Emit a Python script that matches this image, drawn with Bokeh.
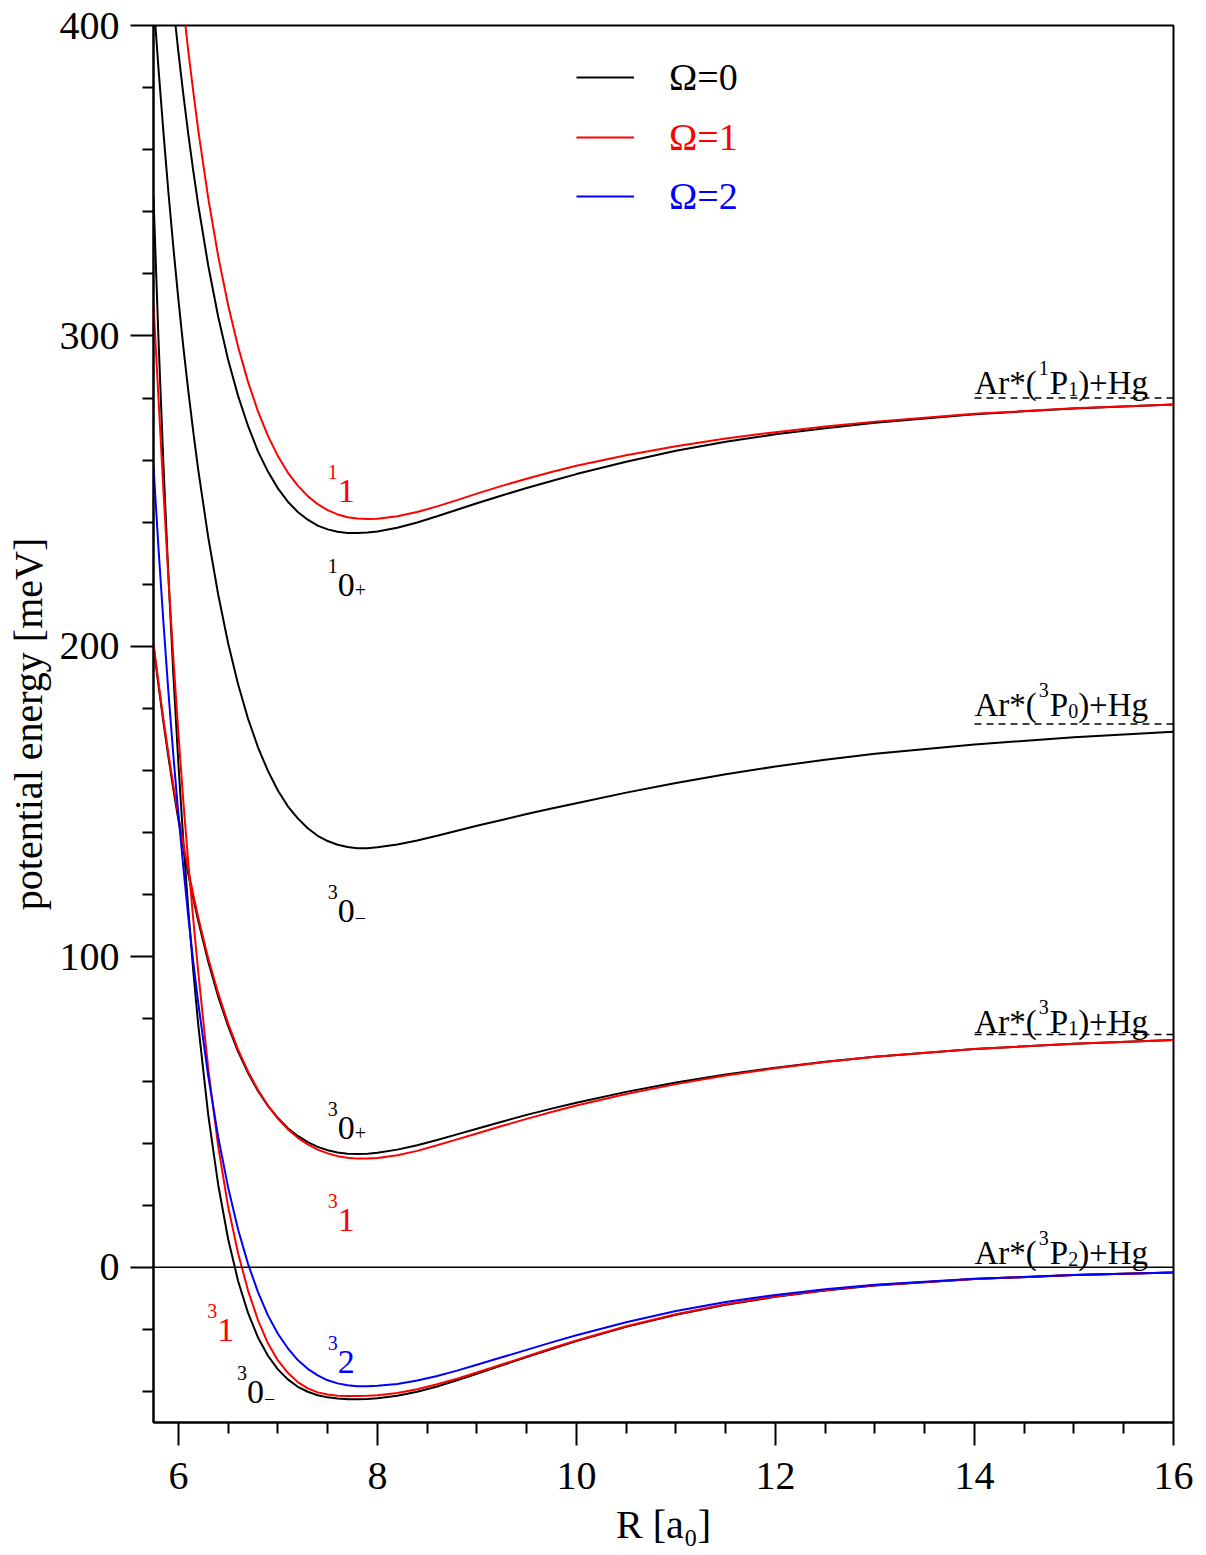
from bokeh.plotting import figure
from bokeh.models import Range1d, FixedTicker, Label, Legend, LegendItem, Span
from bokeh.embed import file_html
from bokeh.resources import INLINE

# ---------------- data ----------------
R = [5.75, 5.8, 5.85, 5.9, 5.95, 6.0, 6.05, 6.1, 6.15, 6.2, 6.3, 6.4, 6.5, 6.6, 6.7, 6.8, 6.9,
     7.0, 7.1, 7.2, 7.3, 7.4, 7.5, 7.6, 7.7, 7.8, 7.9, 8.0, 8.2, 8.4, 8.6, 8.8, 9.0, 9.25, 9.5,
     9.75, 10.0, 10.5, 11.0, 11.5, 12.0, 12.5, 13.0, 14.0, 15.0, 16.0]

# Omega = 0 (black)
V_1_0p = [478.8, 458.7, 440.0, 422.5, 406.5, 391.5, 377.7, 364.9, 353.1, 342.1, 322.7, 306.2, 292.3,
          280.7, 271.0, 262.8, 256.3, 250.9, 246.6, 243.3, 240.8, 238.9, 237.7, 236.9, 236.5, 236.5,
          236.7, 237.0, 238.2, 239.9, 241.9, 244.0, 246.1, 248.6, 251.0, 253.3, 255.5, 259.5, 263.0,
          265.9, 268.3, 270.3, 272.0, 274.8, 276.6, 277.9]
V_3_0m_up = [408.5, 386.2, 365.6, 346.2, 328.4, 311.8, 296.4, 282.2, 269.0, 256.8, 235.1, 216.7, 201.0,
             187.8, 176.7, 167.5, 159.9, 153.6, 148.5, 144.6, 141.4, 139.0, 137.3, 136.1, 135.4, 135.0,
             135.0, 135.3, 136.2, 137.5, 139.0, 140.6, 142.2, 144.1, 146.0, 147.8, 149.5, 152.9, 156.0,
             158.8, 161.3, 163.5, 165.4, 168.4, 170.7, 172.5]
V_3_0p = [200.2, 187.5, 175.5, 164.3, 153.9, 144.1, 135.1, 126.6, 118.8, 111.5, 98.4, 87.2, 77.7,
          69.5, 62.6, 56.8, 52.0, 48.1, 44.8, 42.3, 40.3, 38.8, 37.7, 37.0, 36.6, 36.5, 36.6, 36.9,
          37.9, 39.3, 41.0, 42.8, 44.6, 46.9, 49.1, 51.1, 53.0, 56.5, 59.5, 62.1, 64.3, 66.2, 67.8,
          70.3, 72.0, 73.2]
V_3_0m_low = [344.7, 299.1, 258.6, 222.6, 190.7, 162.3, 137.3, 115.1, 95.4, 78.0, 49.1, 26.6, 9.1,
              -4.4, -14.7, -22.6, -28.5, -32.9, -36.1, -38.5, -40.1, -41.2, -41.9, -42.3, -42.5, -42.5,
              -42.4, -42.2, -41.4, -40.1, -38.4, -36.4, -34.3, -31.6, -28.9, -26.3, -23.8, -19.2, -15.3,
              -12.1, -9.5, -7.5, -5.9, -3.8, -2.5, -1.7]
# Omega = 1 (red)
V_1_1 = [517.8, 495.6, 474.9, 455.8, 437.9, 421.4, 406.0, 391.7, 378.6, 366.2, 344.4, 325.7, 309.9,
         296.5, 285.2, 275.7, 267.8, 261.3, 256.0, 251.8, 248.4, 245.8, 243.9, 242.5, 241.6, 241.2,
         241.0, 241.1, 241.9, 243.3, 245.1, 247.1, 249.2, 251.7, 254.0, 256.2, 258.2, 261.6, 264.5,
         267.0, 269.0, 270.8, 272.4, 274.9, 276.7, 277.9]
V_3_1_up = [201.0, 188.4, 176.5, 165.5, 155.0, 145.4, 136.2, 127.9, 120.0, 112.7, 99.5, 88.3, 78.5,
            70.1, 63.1, 57.1, 52.1, 47.9, 44.5, 41.7, 39.6, 37.9, 36.7, 35.8, 35.3, 35.0, 35.0, 35.2,
            36.1, 37.5, 39.3, 41.2, 43.1, 45.5, 47.8, 50.0, 52.1, 55.8, 59.0, 61.8, 64.1, 66.1, 67.8,
            70.3, 72.0, 73.2]
V_3_1_low = [310.0, 280.0, 250.0, 222.0, 196.0, 172.0, 150.0, 130.0, 112.0, 95.0, 64.0, 39.0, 19.5,
             4.5, -7.5, -17.0, -24.5, -30.0, -34.0, -37.0, -39.0, -40.3, -41.0, -41.4, -41.5, -41.5,
             -41.4, -41.2, -40.5, -39.3, -37.7, -35.9, -33.9, -31.3, -28.7, -26.1, -23.6, -19.0, -15.1,
             -11.9, -9.4, -7.4, -5.8, -3.8, -2.5, -1.7]
# Omega = 2 (blue)
V_3_2 = [258.0, 231.7, 207.6, 185.2, 164.7, 146.0, 128.8, 112.8, 98.3, 85.0, 61.6, 42.0, 25.7, 12.2,
         1.1, -8.0, -15.5, -21.4, -26.1, -29.9, -32.7, -34.8, -36.4, -37.4, -38.0, -38.3, -38.3, -38.2,
         -37.6, -36.5, -35.0, -33.3, -31.4, -29.0, -26.6, -24.2, -21.9, -17.7, -14.1, -11.2, -8.9, -7.1,
         -5.6, -3.7, -2.5, -1.7]

ASYMPTOTES = [280.0, 175.0, 75.0]          # dashed asymptote levels
ASYM_X = [14.0, 16.0]
LIMIT_TERMS = [("1", "1"), ("3", "0"), ("3", "1"), ("3", "2")]
LIMIT_Y = [285.0, 181.0, 79.0, 4.5]

X_MAJOR = [6, 8, 10, 12, 14, 16]
X_MINOR = [6.5, 7, 7.5, 8.5, 9, 9.5, 10.5, 11, 11.5, 12.5, 13, 13.5, 14.5, 15, 15.5]
Y_MAJOR = [0, 100, 200, 300, 400]
Y_MINOR = [-40, -20, 20, 40, 60, 80, 120, 140, 160, 180, 220, 240, 260, 280, 320, 340, 360, 380]

LEGEND_LABELS = ["\u03a9=0", "\u03a9=1", "\u03a9=2"]
X_LABEL = "R [a\u2080]"
Y_LABEL = "potential energy [meV]"

# ---------------- styling helpers ----------------
FONT = "Liberation Serif"
BLACK, RED, BLUE = "#000000", "#ff0000", "#0000ff"
W, H = 1206, 1555
BL, BR, BT, BB = 153, 33, 25, 133

CW = {'A': 722, 'r': 333, '*': 500, '(': 333, ')': 333, 'P': 556, '+': 564, 'H': 722, 'g': 500,
      'R': 667, ' ': 250, '[': 333, ']': 333, 'a': 444, '\u2212': 564}


def text_width(s, size):
    return sum(CW.get(c, 500) for c in s) * size / 1000.0


def rich(p, x, y, pieces, color):
    off = 0.0
    for t, s, rise, gap in pieces:
        p.add_layout(Label(x=x, y=y, x_offset=off, y_offset=rise, text=t,
                           text_font=FONT, text_font_size=f"{s}px", text_color=color,
                           text_baseline="alphabetic", text_align="left"))
        off += text_width(t, s) + gap


p = figure(width=W, height=H, x_range=Range1d(5.75, 16), y_range=Range1d(-50, 400),
           output_backend="svg", toolbar_location=None,
           min_border_left=BL, min_border_right=BR, min_border_top=BT, min_border_bottom=BB)
p.grid.visible = False
p.background_fill_color = "white"
p.border_fill_color = "white"
p.outline_line_color = "black"
p.outline_line_width = 2
p.outline_line_alpha = 1.0

for ax in (p.xaxis[0], p.yaxis[0]):
    ax.axis_line_width = 2
    ax.major_tick_line_width = 2
    ax.minor_tick_line_width = 2
    ax.major_tick_out = 23
    ax.major_tick_in = 0
    ax.minor_tick_out = 11
    ax.minor_tick_in = 0
    ax.major_label_text_font = FONT
    ax.major_label_text_font_size = "40px"
    ax.major_label_text_color = "black"
    ax.axis_label_text_font = FONT
    ax.axis_label_text_font_size = "40px"
    ax.axis_label_text_font_style = "normal"
    ax.axis_label_text_color = "black"

p.xaxis[0].ticker = FixedTicker(ticks=X_MAJOR, minor_ticks=X_MINOR)
p.yaxis[0].ticker = FixedTicker(ticks=Y_MAJOR, minor_ticks=Y_MINOR)
p.xaxis[0].major_label_standoff = 17
p.yaxis[0].major_label_standoff = 11
p.xaxis[0].axis_label = X_LABEL
p.xaxis[0].axis_label_standoff = 10
p.yaxis[0].axis_label = Y_LABEL
p.yaxis[0].axis_label_standoff = 6

# zero line
p.add_layout(Span(location=0, dimension="width", line_color="black", line_width=1.6))

# dashed asymptotes
p.segment(x0=[ASYM_X[0]] * 3, x1=[ASYM_X[1]] * 3, y0=ASYMPTOTES, y1=ASYMPTOTES,
          line_color="black", line_width=1.6, line_dash="7 5")

# curves
lw = 2
r0 = p.line(R, V_1_0p, line_color=BLACK, line_width=lw)
p.line(R, V_3_0m_up, line_color=BLACK, line_width=lw)
p.line(R, V_3_0p, line_color=BLACK, line_width=lw)
p.line(R, V_3_0m_low, line_color=BLACK, line_width=lw)
r1 = p.line(R, V_1_1, line_color=RED, line_width=lw)
p.line(R, V_3_1_up, line_color=RED, line_width=lw)
p.line(R, V_3_1_low, line_color=RED, line_width=lw)
r2 = p.line(R, V_3_2, line_color=BLUE, line_width=lw)

# legends (one per entry so that each label has its own colour)
leg_y = [1323, 1263, 1204]
for lab, ren, col, ly in zip(LEGEND_LABELS, [r0, r1, r2], [BLACK, RED, BLUE], leg_y):
    lg = Legend(items=[LegendItem(label=lab, renderers=[ren])], location=(423, ly),
                glyph_width=58, glyph_height=44, label_height=44, label_standoff=35,
                padding=0, margin=0, spacing=0, border_line_alpha=0, background_fill_alpha=0,
                label_text_font=FONT, label_text_font_size="38px", label_text_color=col)
    p.add_layout(lg)

# asymptote labels  Ar*(^{2S+1}P_J)+Hg
for (mult, j), yb in zip(LIMIT_TERMS, LIMIT_Y):
    rich(p, ASYM_X[0], yb, [("Ar*(", 33, 0, 2), (mult, 20, 15, 1), ("P", 33, 0, 0),
                             (j, 20, -6, 0), (")+Hg", 33, 0, 0)], BLACK)

# state labels
SUP, MAIN, SUBS = 20, 34, 20
state_labels = [
    (7.5, 249.9, "1", "1", "", RED),
    (7.5, 219.8, "1", "0", "+", BLACK),
    (7.5, 114.7, "3", "0", "\u2212", BLACK),
    (7.5, 44.8, "3", "0", "+", BLACK),
    (7.5, 15.1, "3", "1", "", RED),
    (7.5, -30.6, "3", "2", "", BLUE),
    (6.29, -20.3, "3", "1", "", RED),
    (6.59, -40.3, "3", "0", "\u2212", BLACK),
]
for x, y, sup, main, sub, col in state_labels:
    pieces = [(sup, SUP, 19, 0), (main, MAIN, 0, 0)]
    if sub:
        pieces.append((sub, SUBS, -7 if sub == "\u2212" else -5, 0))
    rich(p, x, y, pieces, col)

open("out.html", "w").write(file_html(p, INLINE))
